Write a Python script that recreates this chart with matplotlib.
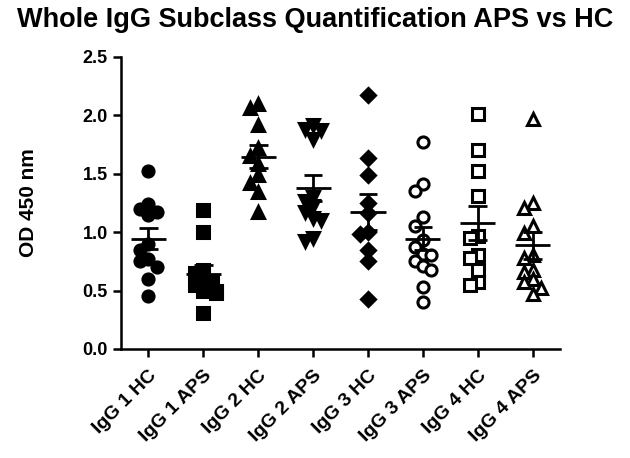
import matplotlib
matplotlib.use("Agg")
import matplotlib.pyplot as plt
import numpy as np

plt.rcParams['font.family'] = ['Liberation Sans', 'DejaVu Sans']
plt.rcParams['font.weight'] = 'bold'

groups = ['IgG 1 HC', 'IgG 1 APS', 'IgG 2 HC', 'IgG 2 APS',
          'IgG 3 HC', 'IgG 3 APS', 'IgG 4 HC', 'IgG 4 APS']

igg1_hc = [1.52, 1.24, 1.2, 1.17, 1.15, 0.9, 0.85, 0.77, 0.75, 0.7, 0.6, 0.45]
igg1_aps = [1.19, 1.0, 0.68, 0.65, 0.6, 0.58, 0.55, 0.5, 0.5, 0.48, 0.31]
igg2_hc = [2.1, 2.06, 1.92, 1.72, 1.65, 1.58, 1.49, 1.42, 1.34, 1.17]
igg2_aps = [1.92, 1.88, 1.87, 1.8, 1.3, 1.27, 1.22, 1.17, 1.12, 1.1, 0.95, 0.92]
igg3_hc = [2.17, 1.63, 1.49, 1.25, 1.16, 1.0, 0.98, 0.85, 0.75, 0.43]
igg3_aps = [1.77, 1.41, 1.35, 1.13, 1.05, 0.93, 0.87, 0.81, 0.8, 0.75, 0.71, 0.68, 0.53, 0.40]
igg4_hc = [2.01, 1.70, 1.52, 1.31, 0.97, 0.95, 0.8, 0.78, 0.68, 0.57, 0.55]
igg4_aps = [1.97, 1.25, 1.21, 1.05, 0.99, 0.8, 0.78, 0.68, 0.66, 0.6, 0.57, 0.52, 0.47]

data = [igg1_hc, igg1_aps, igg2_hc, igg2_aps, igg3_hc, igg3_aps, igg4_hc, igg4_aps]
markers = ['o', 's', '^', 'v', 'D', 'o', 's', '^']
filled = [True, True, True, True, True, False, False, False]


def swarm(vals, ydist=0.08, step=0.15):
    # simple beeswarm: push points sideways when they overlap vertically
    order = np.argsort(vals)[::-1]
    placed = []
    offs = np.zeros(len(vals))
    for i in order:
        y = vals[i]
        for k in [0, -1, 1, -2, 2, -3, 3]:
            x = k * step / 2
            if all(abs(y - py) > ydist or abs(x - px) > step * 0.9 for px, py in placed):
                break
        offs[i] = x
        placed.append((x, y))
    return offs


fig = plt.figure(figsize=(6.3, 4.58), dpi=100)
ax = fig.add_axes([0.192, 0.238, 0.697, 0.638])

for i, vals in enumerate(data):
    vals = np.array(vals)
    xs = i + swarm(vals)
    face = 'black' if filled[i] else 'white'
    ms = 7 if markers[i] == 'D' else 8
    ax.plot(xs, vals, linestyle='none', marker=markers[i], markersize=ms,
            markerfacecolor=face, markeredgecolor='black', markeredgewidth=2.2,
            zorder=3)
    m = vals.mean()
    sem = vals.std(ddof=1) / np.sqrt(len(vals))
    ax.hlines(m, i - 0.32, i + 0.32, color='black', lw=2, zorder=4)
    ax.vlines(i, m - sem, m + sem, color='black', lw=2, zorder=4)
    ax.hlines([m - sem, m + sem], i - 0.17, i + 0.17, color='black', lw=2, zorder=4)

ax.set_xlim(-0.5, 7.5)
ax.set_ylim(0, 2.5)
ax.set_yticks([0, 0.5, 1.0, 1.5, 2.0, 2.5])
ax.set_yticklabels(['0.0', '0.5', '1.0', '1.5', '2.0', '2.5'])
ax.set_xticks(range(len(groups)))
ax.set_xticklabels(groups, rotation=45, ha='right', rotation_mode='anchor')

ax.spines['top'].set_visible(False)
ax.spines['right'].set_visible(False)
for s in ['left', 'bottom']:
    ax.spines[s].set_linewidth(1.8)
ax.tick_params(axis='both', width=1.8, length=6, labelsize=13, direction='out')
ax.tick_params(axis='x', labelsize=14, pad=7)

ax.set_ylabel('OD 450 nm', fontsize=15, fontweight='bold', labelpad=32)
fig.text(0.5, 0.985, 'Whole IgG Subclass Quantification APS vs HC', fontsize=19.5,
         fontweight='bold', ha='center', va='top')

fig.savefig('out.png', dpi=100)
